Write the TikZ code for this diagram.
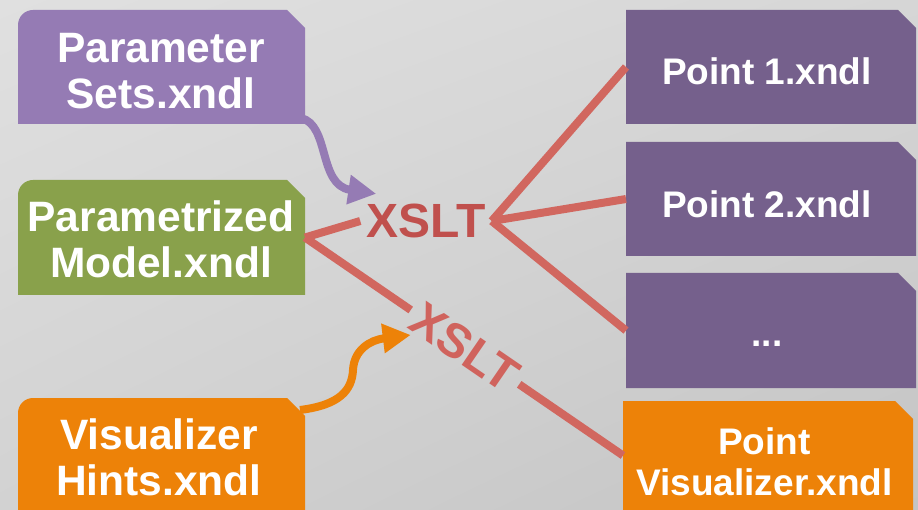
\documentclass[tikz,border=0pt]{standalone}
\usepackage{fontspec}
\setmainfont{Liberation Sans}
\usetikzlibrary{arrows.meta,calc,shadings}

\definecolor{setpurple}{RGB}{149,123,180}
\definecolor{modelgreen}{RGB}{137,161,75}
\definecolor{hintorange}{RGB}{237,130,8}
\definecolor{pointpurple}{RGB}{117,96,140}
\definecolor{xsltline}{RGB}{209,103,95}
\definecolor{xslttext}{RGB}{192,80,77}
\definecolor{xslttextb}{RGB}{208,99,93}
\definecolor{bgul}{RGB}{224,224,224}
\definecolor{bgur}{RGB}{214,214,214}
\definecolor{bgll}{RGB}{210,210,210}
\definecolor{bglr}{RGB}{196,196,196}

\pgfdeclarelayer{shade}
\pgfdeclarelayer{plates}
\pgfsetlayers{shade,plates,main}

% document plate with rounded top-left and cut top-right corner
\newcommand\platerc[2]{%
  \fill[#2] (#1.south west) -- ([yshift=-15pt]#1.north west)
    arc[start angle=180,end angle=90,radius=15pt]
    -- ([xshift=-18pt]#1.north east) -- ([yshift=-18pt]#1.north east)
    -- (#1.south east) -- cycle;}
% document plate with square top-left and cut top-right corner
\newcommand\platech[2]{%
  \fill[#2] (#1.south west) -- (#1.north west)
    -- ([xshift=-18pt]#1.north east) -- ([yshift=-18pt]#1.north east)
    -- (#1.south east) -- cycle;}

\tikzset{
  frame/.style 2 args={minimum width=#1, minimum height=#2, inner sep=0pt, outer sep=0pt},
  lefttext/.style={text=white, align=center, inner sep=0pt,
    font=\bfseries\fontsize{42.5pt}{46pt}\selectfont},
  righttext/.style={text=white, align=center, inner sep=0pt,
    font=\bfseries\fontsize{37pt}{41pt}\selectfont},
  link/.style={draw=xsltline, line width=8pt},
  xsltlabel/.style={inner sep=6pt, font=\bfseries\fontsize{48pt}{48pt}\selectfont},
  feed/.style={line width=8pt, -{Triangle[length=28pt,width=28pt]}}
}

\begin{document}
\begin{tikzpicture}[x=1pt, y=-1pt]
\useasboundingbox (0,0) rectangle (918,510);

\begin{pgfonlayer}{shade}
  \shade[upper left=bgul, upper right=bgur, lower left=bgll, lower right=bglr]
    (0,0) rectangle (918,510);
\end{pgfonlayer}

% source documents
\node[frame={287pt}{114pt}] (A) at (161.5,67) {};
\node[frame={287pt}{115pt}] (B) at (161.5,237.5) {};
\node[frame={287pt}{112pt}] (C) at (161.5,454) {};
% generated documents
\node[frame={290pt}{114pt}] (D) at (771,67) {};
\node[frame={290pt}{114pt}] (E) at (771,199) {};
\node[frame={290pt}{115pt}] (F) at (771,330.5) {};
\node[frame={290pt}{109pt}] (G) at (768,455.5) {};

\begin{pgfonlayer}{plates}
  \platerc{A}{setpurple}
  \platerc{B}{modelgreen}
  \platerc{C}{hintorange}
  \platech{D}{pointpurple}
  \platech{E}{pointpurple}
  \platech{F}{pointpurple}
  \platech{G}{hintorange}
\end{pgfonlayer}

\node[lefttext] (tA) at (161,71) {Parameter\\Sets.xndl};
\node[lefttext] (tB) at (161,239) {Parametrized\\Model.xndl};
\node[lefttext] (tC) at (159,457.5) {Visualizer\\Hints.xndl};
\node[righttext] (tD) at (767,71.5) {Point 1.xndl};
\node[righttext] (tE) at (767,204.5) {Point 2.xndl};
\node[righttext] (tF) at (767,334) {\vphantom{P}...};
\node[righttext] (tG) at (764.5,461.5) {Point\\Visualizer.xndl};

% transformations
\node[xsltlabel, text=xslttext] (X1) at (426,221) {XSLT};
\path (B.east) -- (G.west) node[xsltlabel, text=xslttextb, sloped, pos=0.503] (X2) {XSLT};

\draw[link] (B.east) -- (X1.west);
\foreach \p in {D,E,F} \draw[link] (X1.east) -- (\p.west);
\draw[link] (B.east) -- (X2.west);
\draw[link] (X2.east) -- (G.west);

% parameter and hint inputs
\draw[feed, setpurple] ([xshift=-4pt,yshift=6pt]A.south east)
  .. controls (330,125) and (318,185) .. ([xshift=16pt,yshift=4pt]X1.north west);
\draw[feed, hintorange] ([xshift=-5pt,yshift=-12pt]C.north east)
  .. controls (340,405) and (352,390) .. (353,370)
  .. controls (354,350) and (370,340) .. ([yshift=-25pt]X2.west);
\end{tikzpicture}
\end{document}
